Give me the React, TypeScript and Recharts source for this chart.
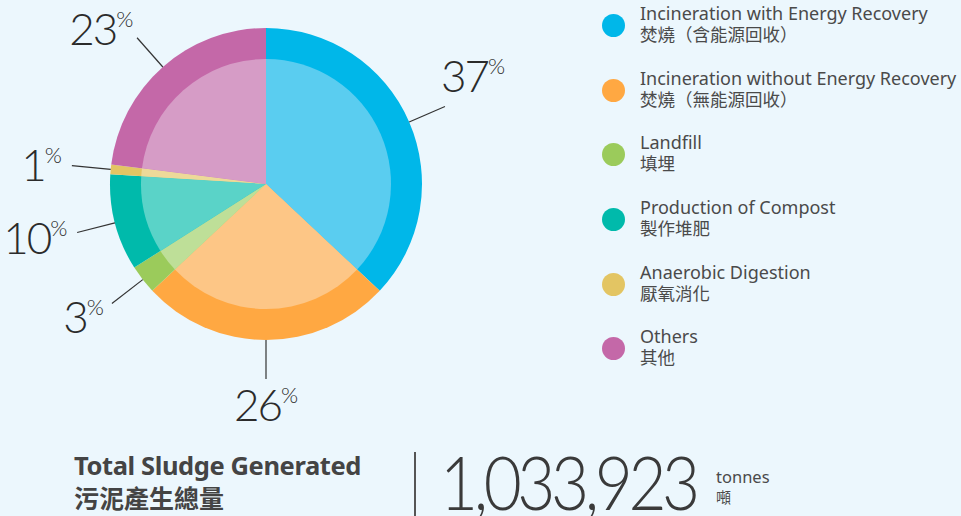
import { Cell, Pie, PieChart, Legend } from "recharts";

const categories = [
  "Incineration with Energy Recovery",
  "Incineration without Energy Recovery",
  "Landfill",
  "Production of Compost",
  "Anaerobic Digestion",
  "Others",
];
const categoriesZh = [
  "焚燒（含能源回收）",
  "焚燒（無能源回收）",
  "填埋",
  "製作堆肥",
  "厭氧消化",
  "其他",
];
const shares = [37, 26, 3, 10, 1, 23];
const totalLabel = "1,033,923";

const OUTER = ["#00b7e9", "#ffa842", "#9bcb5b", "#00baab", "#e3c563", "#c468a8"];
const INNER = ["#5acdf0", "#fdc686", "#bedf98", "#5ad3c8", "#edd999", "#d69cc6"];

const BG = "#ecf7fd";
const TEXT = "#4a4a4a";
const FONT = '"Noto Sans", "Noto Sans CJK TC", sans-serif';
const RAD = Math.PI / 180;

const chartData = categories.map((name, i) => ({ name, value: shares[i] }));

const renderLabel = (props: any) => {
  const { cx, cy, midAngle, outerRadius, index } = props;
  const cos = Math.cos(-midAngle * RAD);
  const sin = Math.sin(-midAngle * RAD);
  const x1 = cx + outerRadius * cos;
  const y1 = cy + outerRadius * sin;
  const x2 = cx + (outerRadius + 39) * cos;
  const y2 = cy + (outerRadius + 39) * sin;
  let tx = x2 + cos * 10;
  let ty = y2 + sin * 20;
  let anchor: "start" | "end" | "middle" = "middle";
  if (cos > 0.3) anchor = "start";
  else if (cos < -0.3) anchor = "end";
  if (anchor === "middle") ty += 5;
  if (anchor === "start") {
    tx = x2 - 4;
    ty -= 24;
  }
  if (anchor === "end" && sin < -0.5) {
    tx += 3;
    ty += 5;
  }
  return (
    <g>
      <line x1={x1} y1={y1} x2={x2} y2={y2} stroke="#333" strokeWidth={1.2} />
      <text
        x={tx}
        y={ty}
        textAnchor={anchor}
        dominantBaseline="central"
        fill="#2b2b2b"
        style={{ fontFamily: "Lato, sans-serif", fontWeight: 300 }}
      >
        <tspan fontSize={44} letterSpacing={-2}>{shares[index]}</tspan>
        <tspan fontSize={22} dy={-10}>%</tspan>
      </text>
    </g>
  );
};

const LegendList = () => (
  <div style={{ fontFamily: FONT, color: TEXT }}>
    {categories.map((name, i) => (
      <div key={name} style={{ position: "relative", height: 64.7 }}>
        <div
          style={{
            position: "absolute",
            left: 1.5,
            top: 14,
            width: 23,
            height: 23,
            borderRadius: "50%",
            background: OUTER[i],
          }}
        />
        <div style={{ position: "absolute", left: 40, top: 3, fontSize: 18, lineHeight: "20px", whiteSpace: "nowrap" }}>
          {name}
        </div>
        <div
          style={{
            position: "absolute",
            left: 40,
            top: 24,
            fontSize: 17.5,
            lineHeight: "20px",
            whiteSpace: "nowrap",
            fontFamily: '"Noto Sans CJK TC", sans-serif',
          }}
        >
          {categoriesZh[i]}
        </div>
      </div>
    ))}
  </div>
);

export default function App() {
  return (
    <div
      style={{
        position: "absolute",
        left: 0,
        top: 0,
        width: 961,
        height: 516,
        background: BG,
        overflow: "hidden",
        fontFamily: FONT,
      }}
    >
      <PieChart
        width={961}
        height={440}
        margin={{ top: 0, right: 0, bottom: 0, left: 0 }}
        style={{ position: "absolute", left: 0, top: 0 }}
      >
        <Pie
          data={chartData}
          dataKey="value"
          nameKey="name"
          cx={266}
          cy={184}
          outerRadius={156}
          startAngle={90}
          endAngle={-270}
          stroke="none"
          label={renderLabel}
          labelLine={false}
          isAnimationActive={false}
        >
          {chartData.map((entry, i) => (
            <Cell key={entry.name} fill={OUTER[i]} />
          ))}
        </Pie>
        <Pie
          data={chartData}
          dataKey="value"
          nameKey="name"
          cx={266}
          cy={184}
          outerRadius={125}
          startAngle={90}
          endAngle={-270}
          stroke="none"
          isAnimationActive={false}
        >
          {chartData.map((entry, i) => (
            <Cell key={entry.name} fill={INNER[i]} />
          ))}
        </Pie>
        <Legend
          layout="vertical"
          content={() => <LegendList />}
          wrapperStyle={{ position: "absolute", left: 600, top: 0, width: 361 }}
        />
      </PieChart>

      <div style={{ position: "absolute", left: 74, top: 449, color: "#444", fontWeight: 700 }}>
        <div style={{ fontSize: 25.5, lineHeight: "32px", letterSpacing: -0.4 }}>Total Sludge Generated</div>
        <div style={{ fontSize: 25, lineHeight: "32px", fontFamily: '"Noto Sans CJK TC", sans-serif' }}>污泥產生總量</div>
      </div>
      <div style={{ position: "absolute", left: 414, top: 452, width: 1.5, height: 64, background: "#555" }} />
      <div
        style={{
          position: "absolute",
          left: 440,
          top: 453,
          fontSize: 75,
          lineHeight: "56px",
          fontFamily: "Lato, sans-serif",
          fontWeight: 300,
          color: "#3a3a3a",
          letterSpacing: -5,
          whiteSpace: "nowrap",
          transform: "scaleX(0.875)",
          transformOrigin: "left top",
        }}
      >
        {totalLabel}
      </div>
      <div style={{ position: "absolute", left: 716, top: 466, color: TEXT }}>
        <div style={{ fontSize: 16.5, lineHeight: "22px" }}>tonnes</div>
        <div style={{ fontSize: 15, lineHeight: "18px", fontFamily: '"Noto Sans CJK TC", sans-serif' }}>噸</div>
      </div>
    </div>
  );
}
